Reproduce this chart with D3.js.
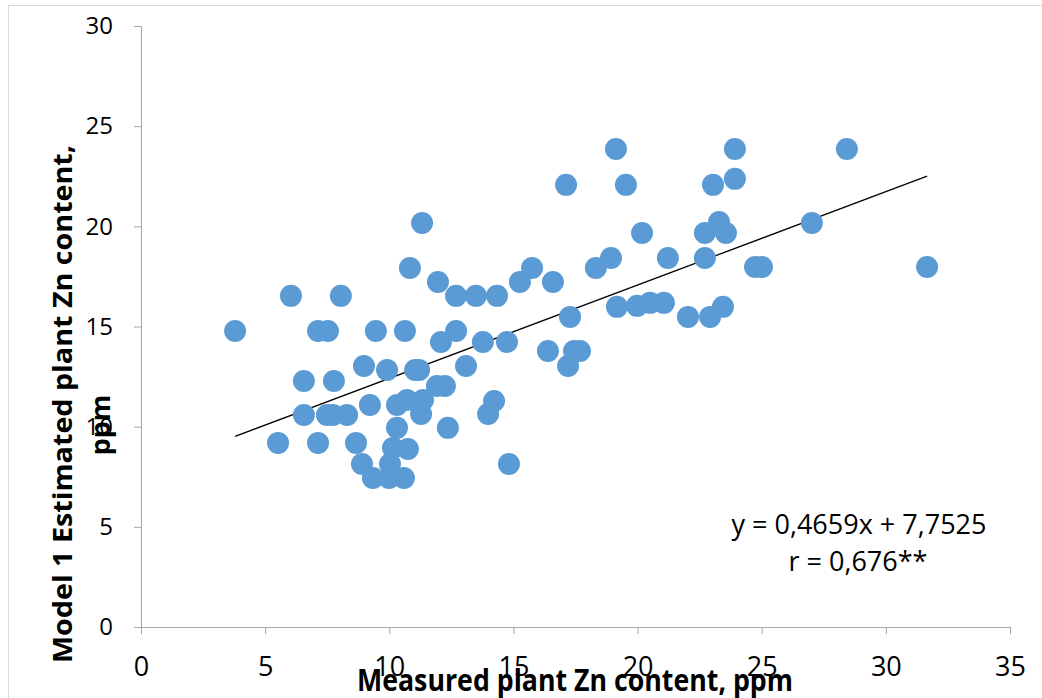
<!DOCTYPE html>
<html>
<head>
<meta charset="utf-8">
<script src="https://cdn.jsdelivr.net/npm/d3@7"></script>
<style>
  html, body { margin: 0; padding: 0; background: #fff; }
  svg { display: block; }
</style>
</head>
<body>
<div id="chart"></div>
<script>
'use strict';

// measured plant Zn (x) and model 1 estimate (y)
var measured = [
    19.13, 23.92, 28.43, 23.92, 17.12, 19.53, 23.04, 11.32, 23.28, 27.02,
    20.18, 22.71, 23.56, 18.93, 21.22, 22.71, 10.83, 15.75, 18.32, 24.73,
    25.01, 31.66, 11.96, 15.26, 16.59, 6.04, 8.05, 12.69, 13.49, 14.34,
    19.17, 19.98, 20.50, 21.06, 23.44, 17.28, 22.03, 22.92, 3.79, 7.13,
    7.53, 9.46, 10.63, 12.69, 12.08, 13.77, 14.74, 16.39, 17.44, 17.68,
    8.98, 9.91, 11.04, 11.20, 13.09, 17.20, 6.56, 7.77, 11.92, 12.24,
    6.56, 7.49, 7.73, 8.30, 9.22, 10.31, 10.71, 11.36, 11.28, 14.22,
    13.98, 10.31, 12.36, 5.52, 7.13, 8.66, 10.15, 10.75, 8.90, 10.03,
    14.82, 9.34, 9.99, 10.59
];
var estimated = [
    23.86, 23.86, 23.86, 22.37, 22.07, 22.07, 22.07, 20.17, 20.22, 20.17,
    19.67, 19.67, 19.67, 18.42, 18.42, 18.42, 17.92, 17.92, 17.92, 17.97,
    17.97, 17.97, 17.22, 17.22, 17.22, 16.53, 16.53, 16.53, 16.53, 16.53,
    15.98, 16.03, 16.18, 16.18, 15.98, 15.48, 15.48, 15.48, 14.78, 14.78,
    14.78, 14.78, 14.78, 14.78, 14.23, 14.23, 14.23, 13.78, 13.78, 13.78,
    13.03, 12.83, 12.83, 12.83, 13.03, 13.03, 12.28, 12.28, 12.03, 12.03,
    10.58, 10.58, 10.58, 10.58, 11.08, 11.08, 11.33, 11.33, 10.63, 11.28,
    10.63, 9.94, 9.94, 9.19, 9.19, 9.19, 8.94, 8.89, 8.14, 8.14,
    8.14, 7.44, 7.44, 7.44
];

// trend line from the label
var slope = 0.4659;
var intercept = 7.7525;

var xTicks = [0, 5, 10, 15, 20, 25, 30, 35];
var yTicks = [0, 5, 10, 15, 20, 25, 30];

var equationText = 'y = 0,4659x + 7,7525';
var rText = 'r = 0,676**';
var xTitle = 'Measured plant Zn content, ppm';
var yTitle1 = 'Model 1 Estimated plant Zn content,';
var yTitle2 = 'ppm';

var width = 1042, height = 698;
var axisColor = '#a6a6a6';
var dotColor = '#5b9bd5';

var svg = d3.select('#chart')
    .append('svg')
    .attr('width', width)
    .attr('height', height);

// chart frame (only left/top edges are visible in the crop)
svg.append('rect')
    .attr('x', 8.5)
    .attr('y', 5.5)
    .attr('width', 1100)
    .attr('height', 800)
    .attr('fill', 'none')
    .attr('stroke', '#d9d9d9');

var x = d3.scaleLinear().domain([0, 35]).range([141, 1010]);
var y = d3.scaleLinear().domain([0, 30]).range([627, 26]);

var points = measured.map(function (d, i) {
    return {x: d, y: estimated[i]};
});

// y axis
var yAxis = svg.append('g')
    .attr('transform', 'translate(' + x(0) + ',0)')
    .call(d3.axisLeft(y).tickValues(yTicks).tickSizeOuter(0).tickSize(7).tickPadding(21));
yAxis.select('.domain').attr('stroke', axisColor);
yAxis.selectAll('.tick line').attr('stroke', axisColor);
yAxis.selectAll('.tick text')
    .attr('fill', '#000')
    .style('font-family', '"Open Sans", "Noto Sans", sans-serif')
    .style('font-size', '24px');

// x axis
var xAxis = svg.append('g')
    .attr('transform', 'translate(0,' + y(0) + ')')
    .call(d3.axisBottom(x).tickValues(xTicks).tickSizeOuter(0).tickSize(7).tickPadding(23));
xAxis.select('.domain').attr('stroke', axisColor);
xAxis.selectAll('.tick line').attr('stroke', axisColor);
xAxis.selectAll('.tick text')
    .attr('fill', '#000')
    .style('font-family', '"Liberation Sans Narrow", "Open Sans", sans-serif')
    .style('font-size', '27px');

// trend line over the x range of the data
var xExtent = d3.extent(measured);
svg.append('line')
    .attr('x1', x(xExtent[0]))
    .attr('y1', y(slope * xExtent[0] + intercept))
    .attr('x2', x(xExtent[1]))
    .attr('y2', y(slope * xExtent[1] + intercept))
    .attr('stroke', '#000')
    .attr('stroke-width', 1.3);

svg.append('g')
    .selectAll('circle')
    .data(points)
    .enter().append('circle')
    .attr('cx', function (d) { return x(d.x); })
    .attr('cy', function (d) { return y(d.y); })
    .attr('r', 11)
    .attr('fill', dotColor);

// equation label
svg.append('text')
    .attr('x', 859)
    .attr('y', 534)
    .attr('text-anchor', 'middle')
    .style('font-family', '"Open Sans", "Noto Sans", sans-serif')
    .style('font-size', '27px')
    .text(equationText);
svg.append('text')
    .attr('x', 858)
    .attr('y', 571)
    .attr('text-anchor', 'middle')
    .style('font-family', '"Open Sans", "Noto Sans", sans-serif')
    .style('font-size', '27px')
    .text(rText);

// axis titles
svg.append('text')
    .attr('x', 575)
    .attr('y', 691)
    .attr('text-anchor', 'middle')
    .attr('textLength', 436)
    .attr('lengthAdjust', 'spacingAndGlyphs')
    .style('font-family', '"Liberation Sans Narrow", "Open Sans", sans-serif')
    .style('font-weight', 'bold')
    .style('font-size', '30px')
    .text(xTitle);

svg.append('text')
    .attr('transform', 'translate(72,404) rotate(-90)')
    .attr('text-anchor', 'middle')
    .attr('textLength', 518)
    .attr('lengthAdjust', 'spacingAndGlyphs')
    .style('font-family', '"Open Sans", "Noto Sans", sans-serif')
    .style('font-weight', 'bold')
    .style('font-size', '27px')
    .text(yTitle1);
svg.append('text')
    .attr('transform', 'translate(110,425) rotate(-90)')
    .attr('text-anchor', 'middle')
    .style('font-family', '"Open Sans", "Noto Sans", sans-serif')
    .style('font-weight', 'bold')
    .style('font-size', '27px')
    .text(yTitle2);
</script>
</body>
</html>
